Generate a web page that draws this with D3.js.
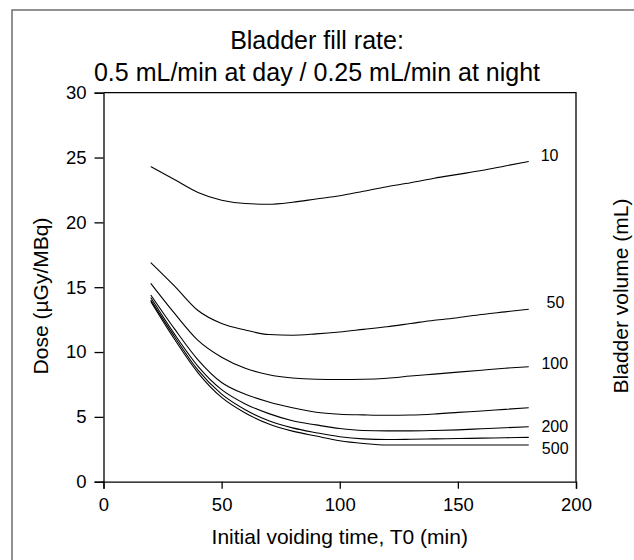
<!DOCTYPE html>
<html>
<head>
<meta charset="utf-8">
<script src="https://cdn.jsdelivr.net/npm/d3@7"></script>
<style>
  body { margin: 0; background: #fff; }
  svg { font-family: "Liberation Sans", Arial, sans-serif; }
</style>
</head>
<body>
<div class="chart"></div>
<script>
// Parameters
const width = 634;
const height = 560;
const margin = { top: 92.7, right: 58, bottom: 78.3, left: 103.5 };
const font = '"Liberation Sans", Arial, sans-serif';

// Data
const times = [20, 30, 40, 50, 60, 70, 80, 90, 100, 110, 120, 130, 140, 150, 160, 170, 180];
const volumes = ['10', '50', '100', '150', '200', '300', '500'];
const dose10  = [24.3, 23.3, 22.3, 21.7, 21.45, 21.4, 21.55, 21.8, 22.05, 22.4, 22.75, 23.05, 23.4, 23.7, 24.0, 24.35, 24.7];
const dose50  = [16.9, 15.1, 13.2, 12.2, 11.7, 11.35, 11.3, 11.4, 11.55, 11.75, 11.95, 12.2, 12.45, 12.65, 12.9, 13.1, 13.3];
const dose100 = [15.3, 13.0, 10.9, 9.6, 8.75, 8.25, 8.0, 7.9, 7.88, 7.9, 7.98, 8.15, 8.3, 8.45, 8.6, 8.75, 8.87];
const dose150 = [14.4, 11.8, 9.4, 7.65, 6.75, 6.15, 5.7, 5.35, 5.2, 5.15, 5.12, 5.14, 5.22, 5.35, 5.45, 5.58, 5.7];
const dose200 = [14.2, 11.4, 8.9, 7.1, 6.0, 5.25, 4.7, 4.38, 4.1, 3.95, 3.92, 3.92, 3.95, 4.0, 4.08, 4.16, 4.24];
const dose300 = [14.0, 11.2, 8.6, 6.75, 5.55, 4.7, 4.15, 3.78, 3.47, 3.3, 3.25, 3.27, 3.3, 3.33, 3.36, 3.39, 3.42];
const dose500 = [13.9, 11.0, 8.4, 6.5, 5.3, 4.45, 3.9, 3.52, 3.16, 2.95, 2.83, 2.83, 2.83, 2.83, 2.83, 2.83, 2.83];
const seriesValues = [dose10, dose50, dose100, dose150, dose200, dose300, dose500];

// curve labels (only some volumes are labelled), placed in data units
const labelText = ['10', '50', '100', '200', '500'];
const labelTime = [188.8, 191.3, 191, 191, 191.2];
const labelDose = [25.17, 13.82, 9.11, 4.31, 2.61];

const xTicks = [0, 50, 100, 150, 200];
const yTicks = [0, 5, 10, 15, 20, 25, 30];

function drawGraph() {
    const svg = d3.select('.chart')
        .append('svg')
        .attr('width', width)
        .attr('height', height);

    // grey frame (left and top edges visible)
    svg.append('path')
        .attr('d', `M12,${height} L12,10 L${width},10`)
        .attr('fill', 'none')
        .attr('stroke', '#6e6e6e')
        .attr('stroke-width', 1.5);

    const scaleX = d3.scaleLinear()
        .domain([0, 200])
        .range([margin.left, width - margin.right]);

    const scaleY = d3.scaleLinear()
        .domain([0, 30])
        .range([height - margin.bottom, margin.top]);

    // box top and right
    svg.append('path')
        .attr('d', `M${scaleX(0)},${scaleY(30)} L${scaleX(200)},${scaleY(30)} L${scaleX(200)},${scaleY(0)}`)
        .attr('fill', 'none')
        .attr('stroke', '#000')
        .attr('stroke-width', 1.3);

    const xAxis = svg.append('g')
        .attr('transform', `translate(0, ${scaleY(0)})`)
        .call(d3.axisBottom(scaleX).tickValues(xTicks).tickSize(7).tickPadding(9));

    const yAxis = svg.append('g')
        .attr('transform', `translate(${scaleX(0)}, 0)`)
        .call(d3.axisLeft(scaleY).tickValues(yTicks).tickSize(9).tickPadding(8));

    [xAxis, yAxis].forEach(a => {
        a.attr('font-size', null).attr('font-family', null);
        a.selectAll('path, line').attr('stroke', '#000').attr('stroke-width', 1.3);
        a.selectAll('text')
            .attr('fill', '#000')
            .style('font-size', '18.5px')
            .style('font-family', font);
    });

    // curves
    const line = d3.line()
        .x((d, i) => scaleX(times[i]))
        .y(d => scaleY(d))
        .curve(d3.curveMonotoneX);

    svg.append('g')
        .selectAll('path')
        .data(seriesValues)
        .join('path')
        .attr('d', d => line(d))
        .attr('fill', 'none')
        .attr('stroke', '#000')
        .attr('stroke-width', 1.1);

    // curve labels
    svg.append('g')
        .selectAll('text')
        .data(labelText)
        .join('text')
        .attr('x', (d, i) => scaleX(labelTime[i]))
        .attr('y', (d, i) => scaleY(labelDose[i]))
        .attr('dy', '0.36em')
        .attr('text-anchor', 'middle')
        .attr('font-size', '16px')
        .attr('fill', '#000')
        .text(d => d);

    // titles
    const title = svg.append('text')
        .attr('text-anchor', 'middle')
        .attr('font-size', '25px')
        .attr('fill', '#000');
    title.append('tspan').attr('x', 317).attr('y', 49).text('Bladder fill rate:');
    title.append('tspan').attr('x', 317).attr('y', 81).text('0.5 mL/min at day / 0.25 mL/min at night');

    svg.append('text')
        .attr('x', (scaleX(0) + scaleX(200)) / 2)
        .attr('y', 544)
        .attr('text-anchor', 'middle')
        .attr('font-size', '21px')
        .attr('fill', '#000')
        .text('Initial voiding time, T0 (min)');

    svg.append('text')
        .attr('transform', 'translate(48, 296) rotate(-90)')
        .attr('text-anchor', 'middle')
        .attr('font-size', '21px')
        .attr('fill', '#000')
        .text('Dose (µGy/MBq)');

    svg.append('text')
        .attr('transform', 'translate(628, 296) rotate(-90)')
        .attr('text-anchor', 'middle')
        .attr('font-size', '21px')
        .attr('fill', '#000')
        .text('Bladder volume (mL)');
}

drawGraph();
</script>
</body>
</html>
